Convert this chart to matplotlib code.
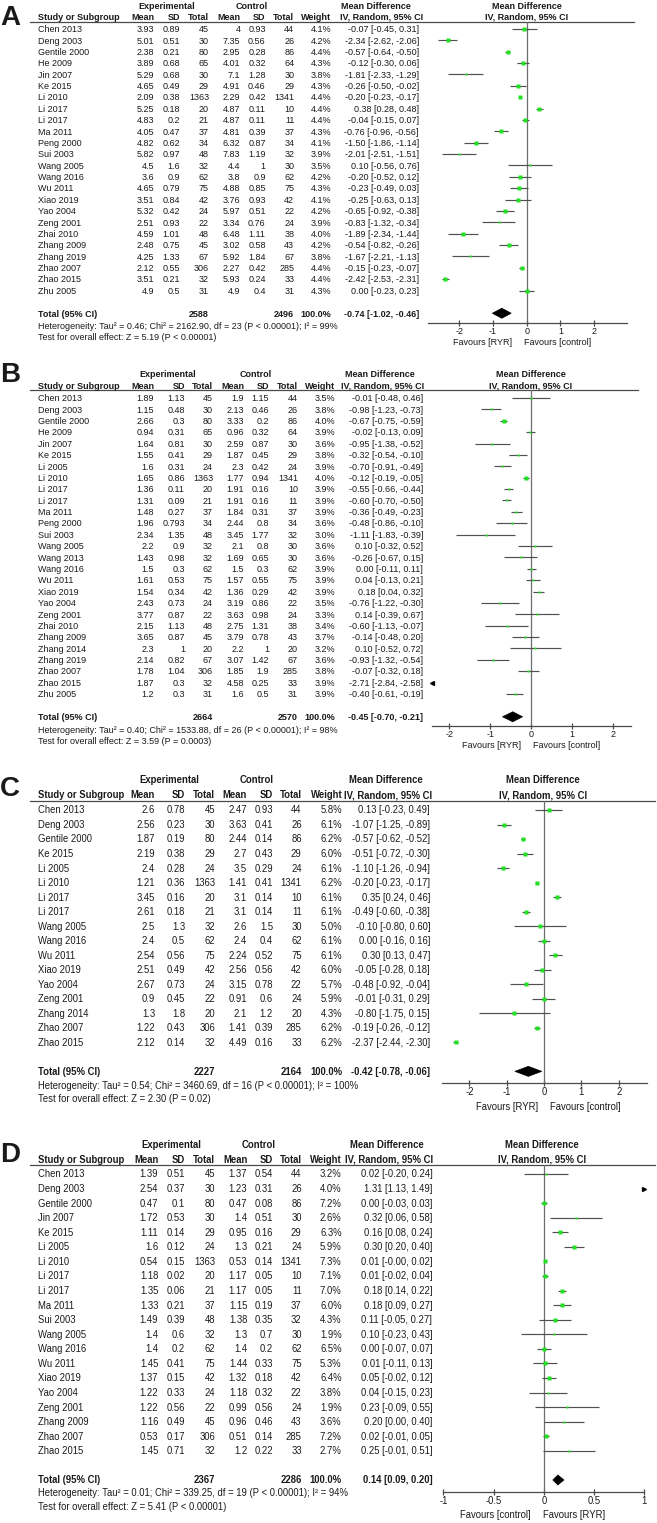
import matplotlib
matplotlib.use("Agg")
import matplotlib.pyplot as plt
from matplotlib import font_manager
from matplotlib.patches import Polygon

# ---------------- data: panel A ----------------
study_A = ["Chen 2013", "Deng 2003", "Gentile 2000", "He 2009", "Jin 2007", "Ke 2015", "Li 2010",
           "Li 2017", "Li 2017", "Ma 2011", "Peng 2000", "Sui 2003", "Wang 2005", "Wang 2016",
           "Wu 2011", "Xiao 2019", "Yao 2004", "Zeng 2001", "Zhai 2010", "Zhang 2009",
           "Zhang 2019", "Zhao 2007", "Zhao 2015", "Zhu 2005"]
exp_mean_A = [3.93, 5.01, 2.38, 3.89, 5.29, 4.65, 2.09, 5.25, 4.83, 4.05, 4.82, 5.82, 4.5, 3.6,
              4.65, 3.51, 5.32, 2.51, 4.59, 2.48, 4.25, 2.12, 3.51, 4.9]
exp_sd_A = [0.89, 0.51, 0.21, 0.68, 0.68, 0.49, 0.38, 0.18, 0.2, 0.47, 0.62, 0.97, 1.6, 0.9,
            0.79, 0.84, 0.42, 0.93, 1.01, 0.75, 1.33, 0.55, 0.21, 0.5]
exp_n_A = [45, 30, 80, 65, 30, 29, 1363, 20, 21, 37, 34, 48, 32, 62, 75, 42, 24, 22, 48, 45, 67, 306, 32, 31]
ctl_mean_A = [4, 7.35, 2.95, 4.01, 7.1, 4.91, 2.29, 4.87, 4.87, 4.81, 6.32, 7.83, 4.4, 3.8,
              4.88, 3.76, 5.97, 3.34, 6.48, 3.02, 5.92, 2.27, 5.93, 4.9]
ctl_sd_A = [0.93, 0.56, 0.28, 0.32, 1.28, 0.46, 0.42, 0.11, 0.11, 0.39, 0.87, 1.19, 1, 0.9,
            0.85, 0.93, 0.51, 0.76, 1.11, 0.58, 1.84, 0.42, 0.24, 0.4]
ctl_n_A = [44, 26, 86, 64, 30, 29, 1341, 10, 11, 37, 34, 32, 30, 62, 75, 42, 22, 24, 38, 43, 67, 285, 33, 31]
weight_A = [4.1, 4.2, 4.4, 4.3, 3.8, 4.3, 4.4, 4.4, 4.4, 4.3, 4.1, 3.9, 3.5, 4.2, 4.3, 4.1, 4.2,
            3.9, 4.0, 4.2, 3.8, 4.4, 4.4, 4.3]
md_A = [-0.07, -2.34, -0.57, -0.12, -1.81, -0.26, -0.20, 0.38, -0.04, -0.76, -1.50, -2.01, 0.10,
        -0.20, -0.23, -0.25, -0.65, -0.83, -1.89, -0.54, -1.67, -0.15, -2.42, 0.00]
lo_A = [-0.45, -2.62, -0.64, -0.30, -2.33, -0.50, -0.23, 0.28, -0.15, -0.96, -1.86, -2.51, -0.56,
        -0.52, -0.49, -0.63, -0.92, -1.32, -2.34, -0.82, -2.21, -0.23, -2.53, -0.23]
hi_A = [0.31, -2.06, -0.50, 0.06, -1.29, -0.02, -0.17, 0.48, 0.07, -0.56, -1.14, -1.51, 0.76,
        0.12, 0.03, 0.13, -0.38, -0.34, -1.44, -0.26, -1.13, -0.07, -2.31, 0.23]
total_A = [2588, 2496, -0.74, -1.02, -0.46]
het_A = "Heterogeneity: Tau² = 0.46; Chi² = 2162.90, df = 23 (P < 0.00001); I² = 99%"
test_A = "Test for overall effect: Z = 5.19 (P < 0.00001)"

# ---------------- data: panel B ----------------
study_B = ["Chen 2013", "Deng 2003", "Gentile 2000", "He 2009", "Jin 2007", "Ke 2015", "Li 2005",
           "Li 2010", "Li 2017", "Li 2017", "Ma 2011", "Peng 2000", "Sui 2003", "Wang 2005",
           "Wang 2013", "Wang 2016", "Wu 2011", "Xiao 2019", "Yao 2004", "Zeng 2001", "Zhai 2010",
           "Zhang 2009", "Zhang 2014", "Zhang 2019", "Zhao 2007", "Zhao 2015", "Zhu 2005"]
exp_mean_B = [1.89, 1.15, 2.66, 0.94, 1.64, 1.55, 1.6, 1.65, 1.36, 1.31, 1.48, 1.96, 2.34, 2.2,
              1.43, 1.5, 1.61, 1.54, 2.43, 3.77, 2.15, 3.65, 2.3, 2.14, 1.78, 1.87, 1.2]
exp_sd_B = [1.13, 0.48, 0.3, 0.31, 0.81, 0.41, 0.31, 0.86, 0.11, 0.09, 0.27, 0.793, 1.35, 0.9,
            0.98, 0.3, 0.53, 0.34, 0.73, 0.87, 1.13, 0.87, 1, 0.82, 1.04, 0.3, 0.3]
exp_n_B = [45, 30, 80, 65, 30, 29, 24, 1363, 20, 21, 37, 34, 48, 32, 32, 62, 75, 42, 24, 22, 48,
           45, 20, 67, 306, 32, 31]
ctl_mean_B = [1.9, 2.13, 3.33, 0.96, 2.59, 1.87, 2.3, 1.77, 1.91, 1.91, 1.84, 2.44, 3.45, 2.1,
              1.69, 1.5, 1.57, 1.36, 3.19, 3.63, 2.75, 3.79, 2.2, 3.07, 1.85, 4.58, 1.6]
ctl_sd_B = [1.15, 0.46, 0.2, 0.32, 0.87, 0.45, 0.42, 0.94, 0.16, 0.16, 0.31, 0.8, 1.77, 0.8,
            0.65, 0.3, 0.55, 0.29, 0.86, 0.98, 1.31, 0.78, 1, 1.42, 1.9, 0.25, 0.5]
ctl_n_B = [44, 26, 86, 64, 30, 29, 24, 1341, 10, 11, 37, 34, 32, 30, 30, 62, 75, 42, 22, 24, 38,
           43, 20, 67, 285, 33, 31]
weight_B = [3.5, 3.8, 4.0, 3.9, 3.6, 3.8, 3.9, 4.0, 3.9, 3.9, 3.9, 3.6, 3.0, 3.6, 3.6, 3.9, 3.9,
            3.9, 3.5, 3.3, 3.4, 3.7, 3.2, 3.6, 3.8, 3.9, 3.9]
md_B = [-0.01, -0.98, -0.67, -0.02, -0.95, -0.32, -0.70, -0.12, -0.55, -0.60, -0.36, -0.48, -1.11,
        0.10, -0.26, 0.00, 0.04, 0.18, -0.76, 0.14, -0.60, -0.14, 0.10, -0.93, -0.07, -2.71, -0.40]
lo_B = [-0.48, -1.23, -0.75, -0.13, -1.38, -0.54, -0.91, -0.19, -0.66, -0.70, -0.49, -0.86, -1.83,
        -0.32, -0.67, -0.11, -0.13, 0.04, -1.22, -0.39, -1.13, -0.48, -0.52, -1.32, -0.32, -2.84, -0.61]
hi_B = [0.46, -0.73, -0.59, 0.09, -0.52, -0.10, -0.49, -0.05, -0.44, -0.50, -0.23, -0.10, -0.39,
        0.52, 0.15, 0.11, 0.21, 0.32, -0.30, 0.67, -0.07, 0.20, 0.72, -0.54, 0.18, -2.58, -0.19]
total_B = [2664, 2570, -0.45, -0.70, -0.21]
het_B = "Heterogeneity: Tau² = 0.40; Chi² = 1533.88, df = 26 (P < 0.00001); I² = 98%"
test_B = "Test for overall effect: Z = 3.59 (P = 0.0003)"

# ---------------- data: panel C ----------------
study_C = ["Chen 2013", "Deng 2003", "Gentile 2000", "Ke 2015", "Li 2005", "Li 2010", "Li 2017",
           "Li 2017", "Wang 2005", "Wang 2016", "Wu 2011", "Xiao 2019", "Yao 2004", "Zeng 2001",
           "Zhang 2014", "Zhao 2007", "Zhao 2015"]
exp_mean_C = [2.6, 2.56, 1.87, 2.19, 2.4, 1.21, 3.45, 2.61, 2.5, 2.4, 2.54, 2.51, 2.67, 0.9, 1.3, 1.22, 2.12]
exp_sd_C = [0.78, 0.23, 0.19, 0.38, 0.28, 0.36, 0.16, 0.18, 1.3, 0.5, 0.56, 0.49, 0.73, 0.45, 1.8, 0.43, 0.14]
exp_n_C = [45, 30, 80, 29, 24, 1363, 20, 21, 32, 62, 75, 42, 24, 22, 20, 306, 32]
ctl_mean_C = [2.47, 3.63, 2.44, 2.7, 3.5, 1.41, 3.1, 3.1, 2.6, 2.4, 2.24, 2.56, 3.15, 0.91, 2.1, 1.41, 4.49]
ctl_sd_C = [0.93, 0.41, 0.14, 0.43, 0.29, 0.41, 0.14, 0.14, 1.5, 0.4, 0.52, 0.56, 0.78, 0.6, 1.2, 0.39, 0.16]
ctl_n_C = [44, 26, 86, 29, 24, 1341, 10, 11, 30, 62, 75, 42, 22, 24, 20, 285, 33]
weight_C = [5.8, 6.1, 6.2, 6.0, 6.1, 6.2, 6.1, 6.1, 5.0, 6.1, 6.1, 6.0, 5.7, 5.9, 4.3, 6.2, 6.2]
md_C = [0.13, -1.07, -0.57, -0.51, -1.10, -0.20, 0.35, -0.49, -0.10, 0.00, 0.30, -0.05, -0.48,
        -0.01, -0.80, -0.19, -2.37]
lo_C = [-0.23, -1.25, -0.62, -0.72, -1.26, -0.23, 0.24, -0.60, -0.80, -0.16, 0.13, -0.28, -0.92,
        -0.31, -1.75, -0.26, -2.44]
hi_C = [0.49, -0.89, -0.52, -0.30, -0.94, -0.17, 0.46, -0.38, 0.60, 0.16, 0.47, 0.18, -0.04,
        0.29, 0.15, -0.12, -2.30]
total_C = [2227, 2164, -0.42, -0.78, -0.06]
het_C = "Heterogeneity: Tau² = 0.54; Chi² = 3460.69, df = 16 (P < 0.00001); I² = 100%"
test_C = "Test for overall effect: Z = 2.30 (P = 0.02)"

# ---------------- data: panel D ----------------
study_D = ["Chen 2013", "Deng 2003", "Gentile 2000", "Jin 2007", "Ke 2015", "Li 2005", "Li 2010",
           "Li 2017", "Li 2017", "Ma 2011", "Sui 2003", "Wang 2005", "Wang 2016", "Wu 2011",
           "Xiao 2019", "Yao 2004", "Zeng 2001", "Zhang 2009", "Zhao 2007", "Zhao 2015"]
exp_mean_D = [1.39, 2.54, 0.47, 1.72, 1.11, 1.6, 0.54, 1.18, 1.35, 1.33, 1.49, 1.4, 1.4, 1.45,
              1.37, 1.22, 1.22, 1.16, 0.53, 1.45]
exp_sd_D = [0.51, 0.37, 0.1, 0.53, 0.14, 0.12, 0.15, 0.02, 0.06, 0.21, 0.39, 0.6, 0.2, 0.41,
            0.15, 0.33, 0.56, 0.49, 0.17, 0.71]
exp_n_D = [45, 30, 80, 30, 29, 24, 1363, 20, 21, 37, 48, 32, 62, 75, 42, 24, 22, 45, 306, 32]
ctl_mean_D = [1.37, 1.23, 0.47, 1.4, 0.95, 1.3, 0.53, 1.17, 1.17, 1.15, 1.38, 1.3, 1.4, 1.44,
              1.32, 1.18, 0.99, 0.96, 0.51, 1.2]
ctl_sd_D = [0.54, 0.31, 0.08, 0.51, 0.16, 0.21, 0.14, 0.05, 0.05, 0.19, 0.35, 0.7, 0.2, 0.33,
            0.18, 0.32, 0.56, 0.46, 0.14, 0.22]
ctl_n_D = [44, 26, 86, 30, 29, 24, 1341, 10, 11, 37, 32, 30, 62, 75, 42, 22, 24, 43, 285, 33]
weight_D = [3.2, 4.0, 7.2, 2.6, 6.3, 5.9, 7.3, 7.1, 7.0, 6.0, 4.3, 1.9, 6.5, 5.3, 6.4, 3.8, 1.9,
            3.6, 7.2, 2.7]
md_D = [0.02, 1.31, 0.00, 0.32, 0.16, 0.30, 0.01, 0.01, 0.18, 0.18, 0.11, 0.10, 0.00, 0.01, 0.05,
        0.04, 0.23, 0.20, 0.02, 0.25]
lo_D = [-0.20, 1.13, -0.03, 0.06, 0.08, 0.20, -0.0, -0.02, 0.14, 0.09, -0.05, -0.23, -0.07, -0.11,
        -0.02, -0.15, -0.09, 0.00, -0.01, -0.01]
hi_D = [0.24, 1.49, 0.03, 0.58, 0.24, 0.40, 0.02, 0.04, 0.22, 0.27, 0.27, 0.43, 0.07, 0.13, 0.12,
        0.23, 0.55, 0.40, 0.05, 0.51]
total_D = [2367, 2286, 0.14, 0.09, 0.20]
het_D = "Heterogeneity: Tau² = 0.01; Chi² = 339.25, df = 19 (P < 0.00001); I² = 94%"
test_D = "Test for overall effect: Z = 5.41 (P < 0.00001)"

# ---------------- style ----------------
W, H, DPI = 657, 1523, 100
names = {f.name for f in font_manager.fontManager.ttflist}
WIDE = "Liberation Sans"
# panels C and D use a narrow face in the original; fall back to a smaller regular face
NARROW, NARROW_FS = WIDE, 6.85
for cand in ["Liberation Sans Narrow", "Arial Narrow", "Noto Sans Condensed"]:
    if cand in names:
        NARROW, NARROW_FS = cand, 8.1
        break
TXT = "#1a1a1a"
GREEN = "#22e022"
LINE = "#4a4a4a"
plt.rcParams["axes.unicode_minus"] = False

fig = plt.figure(figsize=(W / DPI, H / DPI), dpi=DPI)
bg = fig.add_axes([0, 0, 1, 1])
bg.set_xlim(0, W)
bg.set_ylim(H, 0)
bg.axis("off")


def put(x, y, s, fs, fam, ha="left", bold=False):
    # y is the visual centre of the caps, in pixels
    bg.text(x, y + 0.36 * fs * DPI / 72, s, ha=ha, va="baseline", fontsize=fs, family=fam,
            fontweight="bold" if bold else "normal", color=TXT)


def g(v):
    return f"{v:g}"


def ci_text(m, l, h):
    return f"{m:.2f} [{l:.2f}, {h:.2f}]"


def draw_panel(letter, lay, study, em, esd, en, cm, csd, cn, wt, md, lo, hi, tot, het, test,
               fav_left, fav_right):
    fs, fam = lay["fs"], lay["font"]
    cols = lay["cols"]
    put(0, lay["label_y"], letter, lay["lfs"], WIDE, bold=True)

    # header rows
    put(lay["exp_c"], lay["top_y"], "Experimental", fs, fam, ha="center", bold=True)
    put(lay["ctl_c"], lay["top_y"], "Control", fs, fam, ha="center", bold=True)
    put(lay["md1_c"], lay["top_y"], "Mean Difference", fs, fam, ha="center", bold=True)
    put(lay["md2_c"], lay["top_y"], "Mean Difference", fs, fam, ha="center", bold=True)
    put(lay["study_x"], lay["hdr_y"], "Study or Subgroup", fs, fam, bold=True)
    for x, s in zip(cols, ["Mean", "SD", "Total", "Mean", "SD", "Total", "Weight"]):
        put(x, lay["hdr_y"], s, fs, fam, ha="right", bold=True)
    put(lay["iv1_c"], lay["hdr_y"], "IV, Random, 95% CI", fs, fam, ha="center", bold=True)
    put(lay["md2_c"], lay["hdr_y"], "IV, Random, 95% CI", fs, fam, ha="center", bold=True)
    bg.plot([30, lay["line_x1"]], [lay["line_y"]] * 2, color=LINE, lw=0.9)

    # study rows
    y0, dy = lay["row0"], lay["dy"]
    n = len(study)
    ys = [y0 + i * dy for i in range(n)]
    for i in range(n):
        put(lay["study_x"], ys[i], study[i], fs, fam)
        vals = [g(em[i]), g(esd[i]), str(en[i]), g(cm[i]), g(csd[i]), str(cn[i]), f"{wt[i]:.1f}%"]
        for x, s in zip(cols, vals):
            put(x, ys[i], s, fs, fam, ha="right")
        put(lay["ci_x"], ys[i], ci_text(md[i], lo[i], hi[i]), fs, fam, ha="right")

    # total rows
    ty = y0 + (n + 1) * dy
    put(lay["study_x"], ty, "Total (95% CI)", fs, fam, bold=True)
    put(cols[2], ty, str(tot[0]), fs, fam, ha="right", bold=True)
    put(cols[5], ty, str(tot[1]), fs, fam, ha="right", bold=True)
    put(cols[6], ty, "100.0%", fs, fam, ha="right", bold=True)
    put(lay["ci_x"], ty, ci_text(tot[2], tot[3], tot[4]), fs, fam, ha="right", bold=True)
    put(lay["study_x"], ty + lay["het_gap"], het, fs, fam)
    put(lay["study_x"], ty + lay["het_gap"] + lay["test_gap"], test, fs, fam)

    # forest plot axes (x: mean difference, y: pixel rows)
    L, R, T, B = lay["ax_l"], lay["ax_r"], lay["line_y"], lay["ax_y"]
    ax = fig.add_axes([L / W, 1 - B / H, (R - L) / W, (B - T) / H])
    ax.set_facecolor("none")
    xmin, xmax = lay["xlim"]
    ax.set_xlim(xmin, xmax)
    ax.set_ylim(B, T)
    for sp in ["top", "left", "right"]:
        ax.spines[sp].set_visible(False)
    ax.spines["bottom"].set_color(LINE)
    ax.spines["bottom"].set_linewidth(0.9)
    ax.set_yticks([])
    ax.set_xticks(lay["ticks"])
    ax.set_xticklabels([g(t) for t in lay["ticks"]], fontsize=fs, family=fam, color=TXT)
    ax.tick_params(axis="x", direction="inout", length=4.5, width=0.9, color=LINE, pad=0.5)
    ax.axvline(0, color="#6e6e6e", lw=0.9)

    for i in range(n):
        a, b = max(lo[i], xmin), min(hi[i], xmax)
        if a < b:
            ax.hlines(ys[i], a, b, color="#505050", lw=0.85)
        if lo[i] < xmin:
            ax.plot(xmin, ys[i], marker="<", color="black", ms=2.8, clip_on=False)
        if hi[i] > xmax:
            ax.plot(xmax, ys[i], marker=">", color="black", ms=2.8, clip_on=False)
        if xmin < md[i] < xmax:
            ax.plot(md[i], ys[i], marker="s", color=GREEN, mec="none", ms=1.3 + 0.22 * wt[i])

    d = lay["dh"]
    ax.add_patch(Polygon([(tot[3], ty), (tot[2], ty - d), (tot[4], ty), (tot[2], ty + d)],
                         closed=True, facecolor="black", edgecolor="black", lw=0.5))

    put(lay["fav_c"] - 6, lay["fav_y"], fav_left, fs, fam, ha="right")
    put(lay["fav_c"] + 6, lay["fav_y"], fav_right, fs, fam, ha="left")


lay_A = dict(fs=6.5, font=WIDE, lfs=20, label_y=15, top_y=5.5, hdr_y=16.7, line_y=21.7, line_x1=634,
             row0=29, dy=11.37, cols=[154, 180.3, 209, 240.5, 265.7, 294.3, 331], ci_x=419,
             study_x=38.3, exp_c=167, ctl_c=251.5, md1_c=376, iv1_c=382, md2_c=526.7,
             ax_l=427.7, ax_r=626.7, xlim=(-2.94, 2.97), ax_y=322.7, ticks=[-2, -1, 0, 1, 2],
             het_gap=12.4, test_gap=11, fav_y=341.3, fav_c=518.5, dh=5)
lay_B = dict(fs=6.5, font=WIDE, lfs=20, label_y=372, top_y=374, hdr_y=385.7, line_y=390, line_x1=638,
             row0=398, dy=11.385, cols=[154, 185, 213, 244, 269, 298, 335], ci_x=423,
             study_x=38.3, exp_c=168, ctl_c=255.7, md1_c=379.5, iv1_c=383, md2_c=531,
             ax_l=431.7, ax_r=631, xlim=(-2.43, 2.44), ax_y=725.7, ticks=[-2, -1, 0, 1, 2],
             het_gap=13.3, test_gap=11, fav_y=745, fav_c=527, dh=5)
lay_C = dict(fs=NARROW_FS, font=NARROW, lfs=20, label_y=786, top_y=779.3, hdr_y=795, line_y=800.5,
             line_x1=655, row0=810, dy=14.52, cols=[155, 185, 215, 247, 273, 301.7, 342.3], ci_x=430,
             study_x=38.3, exp_c=169.7, ctl_c=256.7, md1_c=386, iv1_c=388, md2_c=543,
             ax_l=441.7, ax_r=646.7, xlim=(-2.74, 2.75), ax_y=1082.7, ticks=[-2, -1, 0, 1, 2],
             het_gap=14, test_gap=13.3, fav_y=1106.7, fav_c=544, dh=5)
lay_D = dict(fs=NARROW_FS, font=NARROW, lfs=20, label_y=1152, top_y=1144.3, hdr_y=1159.3, line_y=1165,
             line_x1=655, row0=1174, dy=14.57, cols=[158.3, 185, 215, 247.3, 273.3, 301.7, 341.7],
             ci_x=432.3, study_x=38.3, exp_c=171, ctl_c=258.7, md1_c=386.7, iv1_c=389.5, md2_c=542,
             ax_l=443.3, ax_r=644.3, xlim=(-1, 1), ax_y=1491.7, ticks=[-1, -0.5, 0, 0.5, 1],
             het_gap=13, test_gap=13.3, fav_y=1515, fav_c=537, dh=5)

draw_panel("A", lay_A, study_A, exp_mean_A, exp_sd_A, exp_n_A, ctl_mean_A, ctl_sd_A, ctl_n_A,
           weight_A, md_A, lo_A, hi_A, total_A, het_A, test_A, "Favours [RYR]", "Favours [control]")
draw_panel("B", lay_B, study_B, exp_mean_B, exp_sd_B, exp_n_B, ctl_mean_B, ctl_sd_B, ctl_n_B,
           weight_B, md_B, lo_B, hi_B, total_B, het_B, test_B, "Favours [RYR]", "Favours [control]")
draw_panel("C", lay_C, study_C, exp_mean_C, exp_sd_C, exp_n_C, ctl_mean_C, ctl_sd_C, ctl_n_C,
           weight_C, md_C, lo_C, hi_C, total_C, het_C, test_C, "Favours [RYR]", "Favours [control]")
draw_panel("D", lay_D, study_D, exp_mean_D, exp_sd_D, exp_n_D, ctl_mean_D, ctl_sd_D, ctl_n_D,
           weight_D, md_D, lo_D, hi_D, total_D, het_D, test_D, "Favours [control]", "Favours [RYR]")

fig.savefig("out.png", dpi=DPI, facecolor="white")
